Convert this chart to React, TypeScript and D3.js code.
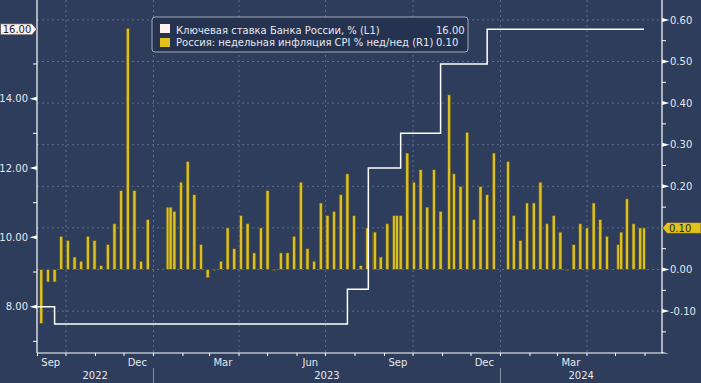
import React from "react";
import * as d3 from "d3";

// ---- data ----
const rateDates = ["2022-09-01", "2022-09-19", "2023-07-24", "2023-08-15", "2023-09-18", "2023-10-30", "2023-12-18", "2024-05-31"];
const rateValues = [8.0, 7.5, 8.5, 12.0, 13.0, 15.0, 16.0, 16.0];

const cpiDates = [
  "2022-09-05", "2022-09-12", "2022-09-19", "2022-09-26", "2022-10-03", "2022-10-10", "2022-10-17", "2022-10-24",
  "2022-10-31", "2022-11-07", "2022-11-14", "2022-11-21", "2022-11-28", "2022-12-05", "2022-12-12", "2022-12-19",
  "2022-12-26", "2023-01-16", "2023-01-19", "2023-01-23", "2023-01-30", "2023-02-06", "2023-02-13", "2023-02-20",
  "2023-02-27", "2023-03-06", "2023-03-13", "2023-03-20", "2023-03-27", "2023-04-03", "2023-04-10", "2023-04-17",
  "2023-04-24", "2023-05-01", "2023-05-08", "2023-05-15", "2023-05-22", "2023-05-29", "2023-06-05", "2023-06-12",
  "2023-06-19", "2023-06-26", "2023-07-03", "2023-07-10", "2023-07-17", "2023-07-24", "2023-07-31", "2023-08-07",
  "2023-08-14", "2023-08-21", "2023-08-22", "2023-08-28", "2023-09-04", "2023-09-11", "2023-09-14", "2023-09-18",
  "2023-09-25", "2023-10-02", "2023-10-09", "2023-10-16", "2023-10-23", "2023-10-30", "2023-11-08", "2023-11-13",
  "2023-11-20", "2023-11-27", "2023-12-04", "2023-12-11", "2023-12-18", "2023-12-25", "2024-01-09", "2024-01-15",
  "2024-01-22", "2024-01-29", "2024-02-05", "2024-02-12", "2024-02-19", "2024-02-26", "2024-03-04", "2024-03-11",
  "2024-03-18", "2024-03-25", "2024-04-01", "2024-04-08", "2024-04-15", "2024-04-22", "2024-05-04", "2024-05-07",
  "2024-05-13", "2024-05-20", "2024-05-27", "2024-05-31",
];
const cpiValues = [
  -0.13, -0.03, -0.03, 0.08, 0.07, 0.03, 0.02, 0.08,
  0.07, 0.01, 0.06, 0.11, 0.19, 0.58, 0.19, 0.02,
  0.12, 0.15, 0.15, 0.14, 0.21, 0.26, 0.18, 0.06,
  -0.02, 0.0, 0.02, 0.10, 0.05, 0.13, 0.11, 0.04,
  0.10, 0.19, 0.0, 0.04, 0.04, 0.08, 0.21, 0.05,
  0.02, 0.16, 0.13, 0.14, 0.18, 0.23, 0.13, 0.01,
  0.10, 0.09, 0.09, 0.03, 0.11, 0.13, 0.13, 0.13,
  0.28, 0.21, 0.24, 0.15, 0.24, 0.14, 0.42, 0.23,
  0.20, 0.33, 0.12, 0.20, 0.18, 0.28, 0.26, 0.13,
  0.07, 0.16, 0.16, 0.21, 0.11, 0.13, 0.09, 0.0,
  0.06, 0.11, 0.10, 0.16, 0.12, 0.08, 0.06, 0.09,
  0.17, 0.11, 0.10, 0.10,
];

const leftMajor = [8, 10, 12, 14, 16];
const leftMinor = [7, 9, 11, 13, 15];
const rightMajor = [-0.1, 0.0, 0.1, 0.2, 0.3, 0.4, 0.5, 0.6];
const rightMinor = [-0.15, -0.05, 0.05, 0.15, 0.25, 0.35, 0.45, 0.55];
const monthNames = ["Jan", "Feb", "Mar", "Apr", "May", "Jun", "Jul", "Aug", "Sep", "Oct", "Nov", "Dec"];
const labelledMonths = [2, 5, 8, 11];
const seriesNames = ["Ключевая ставка Банка России, % (L1)", "Россия: недельная инфляция CPI % нед/нед (R1)"];

// ---- style ----
const BG = "#2e3d5b";
const GRID = "#5a6c8e";
const TXT = "#e4e8ef";
const YEL = "#dcc023";
const YEL_EDGE = "#4e4b2a";
const FONT = "DejaVu Sans, Verdana, sans-serif";

const W = 701, H = 383;
const X0 = 37, X1 = 662, YB = 353, YT = 0;

const parse = d3.timeParse("%Y-%m-%d");

export default function App() {
  const x = d3.scaleTime().domain([parse("2022-10-01")!, parse("2024-04-01")!]).range([66, 587]);
  const yL = d3.scaleLinear().domain([8, 16]).range([306.7, 29.3]);
  const yR = d3.scaleLinear().domain([0, 0.6]).range([269.5, 19.9]);

  const dStart = x.invert(X0);
  const dEnd = x.invert(X1);

  const months = d3.timeMonth.range(d3.timeMonth.ceil(dStart), dEnd);
  const quarters = months.filter((m) => m.getMonth() % 3 === 0);
  const labelMonths = d3.timeMonth
    .range(d3.timeMonth.floor(dStart), dEnd)
    .filter((m) => labelledMonths.includes(m.getMonth()))
    .filter((m) => d3.timeMonth.offset(m, 1) <= dEnd);
  const years = d3.timeYear.range(d3.timeYear.floor(dStart), dEnd);

  const rate: [Date, number][] = rateDates.map((d, i) => [parse(d)!, rateValues[i]]);
  const line = d3
    .line<[Date, number]>()
    .x((d) => x(d[0]))
    .y((d) => yL(d[1]))
    .curve(d3.curveStepAfter);

  const bars = cpiDates.map((d, i) => ({ date: parse(d)!, v: cpiValues[i] }));
  const bw = 3.2;

  const lastRate = rateValues[rateValues.length - 1];
  const lastCpi = cpiValues[cpiValues.length - 1];
  const yLast = yL(lastRate);
  const yLastR = yR(lastCpi);

  return (
    <svg width={W} height={H} style={{ position: "absolute", left: 0, top: 0, display: "block" }} fontFamily={FONT}>
      <rect x={0} y={0} width={W} height={H} fill={BG} />

      {/* horizontal grid */}
      {rightMajor.map((v) => (
        <line key={"hg" + v} x1={X0} x2={X1} y1={yR(v)} y2={yR(v)} stroke={GRID} strokeDasharray="2,3" strokeWidth={1} />
      ))}
      {/* vertical grid */}
      {quarters.map((q) => (
        <line key={"vg" + q.getTime()} x1={x(q)} x2={x(q)} y1={YT} y2={YB} stroke={GRID} strokeDasharray="2,3" strokeWidth={1} />
      ))}

      {/* bars */}
      {bars.map((b, i) => {
        const y0 = yR(0);
        const y1 = yR(b.v);
        const top = Math.min(y0, y1);
        const h = Math.max(1, Math.abs(y1 - y0));
        return (
          <rect key={"b" + i} x={x(b.date) - bw / 2} y={b.v < 0 ? y0 : top} width={bw} height={h} fill={YEL} stroke={YEL_EDGE} strokeWidth={0.7} />
        );
      })}

      {/* key rate line */}
      <path d={line(rate)!} fill="none" stroke="#ffffff" strokeWidth={1.5} />

      {/* axes */}
      <line x1={X0} x2={X0} y1={YT} y2={YB} stroke="#ffffff" strokeWidth={1.2} />
      <line x1={X1} x2={X1} y1={YT} y2={YB} stroke="#ffffff" strokeWidth={1.2} />
      <line x1={X0} x2={X1} y1={YB} y2={YB} stroke="#ffffff" strokeWidth={1.2} />
      <path d={`M${X1},${YB - 1} L${X1 + 7},${YB + 0.5} L${X1},${YB + 0.5} Z`} fill="#ffffff" />

      {/* left ticks */}
      {leftMinor.map((v) => (
        <line key={"lm" + v} x1={X0 - 4} x2={X0} y1={yL(v)} y2={yL(v)} stroke="#ffffff" />
      ))}
      {leftMajor.filter((v) => v !== lastRate).map((v) => (
        <g key={"lM" + v}>
          <path d={`M${X0},${yL(v) - 2} L${X0 - 7.5},${yL(v)} L${X0},${yL(v) + 2} Z`} fill="#ffffff" />
          <text x={X0 - 9} y={yL(v) + 3.6} textAnchor="end" fontSize={10} fill={TXT}>
            {v.toFixed(2)}
          </text>
        </g>
      ))}
      {/* right ticks */}
      {rightMinor.map((v) => (
        <line key={"rm" + v} x1={X1} x2={X1 + 4} y1={yR(v)} y2={yR(v)} stroke="#ffffff" />
      ))}
      {rightMajor.filter((v) => Math.abs(v - lastCpi) > 1e-9).map((v) => (
        <g key={"rM" + v}>
          <path d={`M${X1},${yR(v) - 2} L${X1 + 7.5},${yR(v)} L${X1},${yR(v) + 2} Z`} fill="#ffffff" />
          <text x={X1 + 8} y={yR(v) + 3.6} fontSize={10} fill={TXT}>
            {v.toFixed(2)}
          </text>
        </g>
      ))}

      {/* last value labels */}
      <path
        d={`M0.5,${yLast - 5.5} L32,${yLast - 5.5} L36.5,${yLast} L32,${yLast + 5.5} L0.5,${yLast + 5.5} Z`}
        fill="#fdf2ed"
        stroke="#3a3a3a"
        strokeWidth={0.6}
      />
      <text x={17} y={yLast + 3.6} textAnchor="middle" fontSize={10} fill="#1b2438">
        {lastRate.toFixed(2)}
      </text>
      <path
        d={`M${X1 + 0.5},${yLastR} L${X1 + 5},${yLastR - 5.5} L${W},${yLastR - 5.5} L${W},${yLastR + 5.5} L${X1 + 5},${yLastR + 5.5} Z`}
        fill="#e2c21c"
        stroke="#3a3a3a"
        strokeWidth={0.6}
      />
      <text x={X1 + 7} y={yLastR + 3.6} fontSize={10} fill="#1b2438">
        {lastCpi.toFixed(2)}
      </text>

      {/* bottom ticks */}
      {months.map((m) => (
        <line key={"mt" + m.getTime()} x1={x(m)} x2={x(m)} y1={YB} y2={YB + 3} stroke="#ffffff" />
      ))}
      {labelMonths.map((m) => {
        const mid = x(new Date(m.getFullYear(), m.getMonth(), 15));
        return (
          <text key={"ml" + m.getTime()} x={mid} y={366} textAnchor="middle" fontSize={10} fill={TXT}>
            {monthNames[m.getMonth()]}
          </text>
        );
      })}
      {years.map((yr) => {
        const a = Math.max(X0, x(yr));
        const b = Math.min(X1, x(new Date(yr.getFullYear() + 1, 0, 1)));
        const showSep = x(yr) > X0;
        return (
          <g key={"yr" + yr.getFullYear()}>
            {showSep && <line x1={x(yr)} x2={x(yr)} y1={368} y2={H} stroke="#8a93a6" strokeWidth={1} />}
            <text x={(a + b) / 2} y={379} textAnchor="middle" fontSize={10} fill={TXT}>
              {yr.getFullYear()}
            </text>
          </g>
        );
      })}

      {/* legend */}
      <rect x={152} y={17} width={316} height={35} rx={3} fill="#263350" stroke="#a3abbb" strokeWidth={1} />
      <rect x={160} y={24} width={10} height={9} fill="#fdf2ed" />
      <rect x={160} y={38} width={10} height={9} fill="#e2c21c" />
      <text x={176} y={33.5} fontSize={10} fill={TXT}>
        {seriesNames[0]}
      </text>
      <text x={176} y={46} fontSize={10} fill={TXT}>
        {seriesNames[1]}
      </text>
      <text x={436} y={33.5} fontSize={10} fill={TXT}>
        {lastRate.toFixed(2)}
      </text>
      <text x={436} y={46} fontSize={10} fill={TXT}>
        {lastCpi.toFixed(2)}
      </text>
    </svg>
  );
}
